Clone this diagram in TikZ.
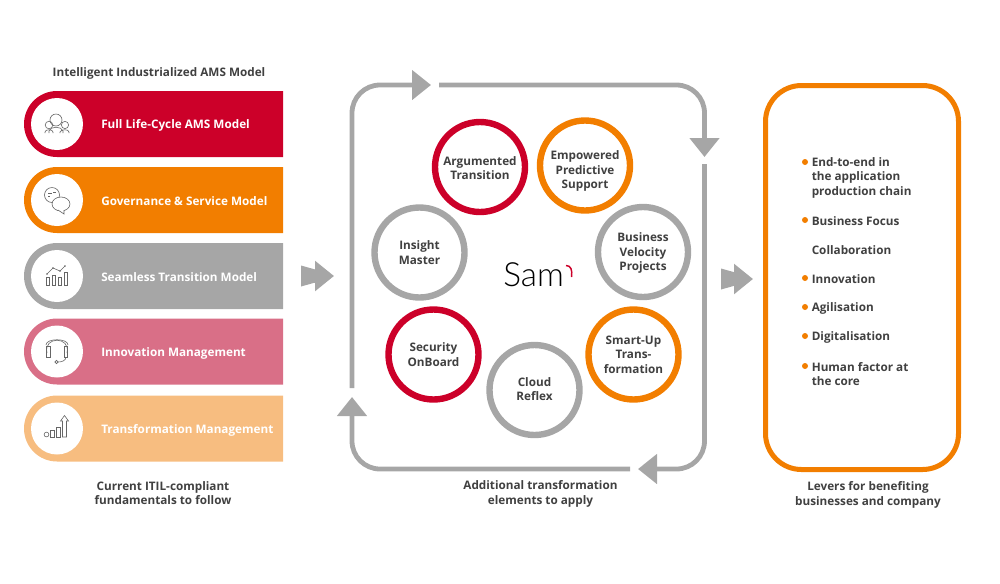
\documentclass[tikz,border=0pt]{standalone}
\usepackage{fontspec}
\setmainfont{Open Sans}
\newfontfamily\logofont{Lato Light}
\usetikzlibrary{arrows.meta,shapes.misc}
\definecolor{samred}{HTML}{CC0029}
\definecolor{samorange}{HTML}{F27E00}
\definecolor{samgray}{HTML}{A6A6A6}
\definecolor{sampink}{HTML}{D96F87}
\definecolor{samsand}{HTML}{F7BD80}
\definecolor{samtext}{HTML}{404040}
\definecolor{samicon}{HTML}{666666}
\tikzset{
	plain/.style={text=samtext,font=\fontsize{8.8pt}{10.9pt}\selectfont\bfseries,align=center,inner sep=0pt},
	notetext/.style={plain,yshift=-.75pt},
	listitem/.style={notetext,align=left,anchor=west},
	barbox/.style={rounded rectangle,rounded rectangle east arc=none,minimum width=194.25pt,minimum height=49.5pt,inner sep=0pt,outer sep=0pt},
	barlabel/.style={plain,text=white,anchor=west,yshift=-1.1pt},
	iconbase/.style={circle,fill=white,minimum size=39pt,inner sep=0pt},
	ring/.style={plain,circle,draw,line width=4.8pt,minimum size=67.5pt},
	loopline/.style={draw=samgray,line width=3.6pt,rounded corners=21pt,-{Triangle[width=21.75pt,length=14.25pt]}},
	pushline/.style={draw=samgray,line width=9.75pt,-{Triangle[width=22pt,length=14.25pt]}},
	icon/.style={draw=samicon,line width=.45pt},
	dotmark/.style={circle,fill=samorange,minimum size=4.5pt,inner sep=0pt}
}
\begin{document}
\begin{tikzpicture}[x=.75pt,y=-.75pt]
	\useasboundingbox (0,0) rectangle (1000,583);
	\node [notetext] (modeltitle) at (159,72) {Intelligent Industrialized AMS Model};
	\node [barbox,fill=samred] (lifebar) at (153.5,124) {};
	\node [barbox,fill=samorange] (govbar) at (153.5,200) {};
	\node [barbox,fill=samgray] (seambar) at (153.5,276) {};
	\node [barbox,fill=sampink] (innobar) at (153.5,351.5) {};
	\node [barbox,fill=samsand] (transbar) at (153.5,428.5) {};
	\node [iconbase] (lifeicon) at (57,124) {};
	\node [iconbase] (govicon) at (57,200) {};
	\node [iconbase] (seamicon) at (57,276) {};
	\node [iconbase] (innoicon) at (57,351.5) {};
	\node [iconbase] (transicon) at (57,428.5) {};
	\node [barlabel] (lifetext) at (101,124) {Full Life-Cycle AMS Model};
	\node [barlabel] (govtext) at (101,200) {Governance \& Service Model};
	\node [barlabel] (seamtext) at (101,276) {Seamless Transition Model};
	\node [barlabel] (innotext) at (101,351.5) {Innovation Management};
	\node [barlabel] (transtext) at (101,429) {Transformation Management};
	\node [notetext] (itilnote) at (163,492) {Current ITIL-compliant\\fundamentals to follow};

	\draw [icon] (56,120) circle (6);
	\draw [icon] (49,125) circle (3.8);
	\draw [icon] (65,125) circle (3.6);
	\draw [icon] (45,133) -- (45,132) .. controls (45,129) and (53,129) .. (53,132) -- (53,133);
	\draw [icon] (49,133) -- (49,131) .. controls (50,126) and (62,126) .. (63,131) -- (63,133);
	\draw [icon] (60,133) -- (60,132) .. controls (61,129) and (69,129) .. (69,132) -- (69,133);
	\draw [icon] (52,195) circle (7.5);
	\draw [icon,fill=white] (61,204) ellipse (9 and 7);
	\draw [icon,fill=white] (58,210) -- (64,214) -- (64,210);
	\draw [icon] (48,193) -- (52,193) (48,196) -- (50,196) (53,192) -- (56,192);
	\draw [icon] (46,277) rectangle (49,285);
	\draw [icon] (52,275) rectangle (55,285);
	\draw [icon] (58,277) rectangle (61,285);
	\draw [icon] (64,272) rectangle (67,285);
	\draw [icon] (47,274) -- (53,268) -- (60,271) -- (65,266);
	\fill [samicon] (47,274) circle (.9) (53,268) circle (.9) (60,271) circle (.9) (65,266) circle (.9);
	\draw [icon] (47,353) .. controls (43,336) and (71,336) .. (67,353);
	\draw [icon] (46,345) .. controls (46,338) and (68,338) .. (68,345);
	\draw [icon] (46.5,346) rectangle (50,357);
	\draw [icon] (64,346) rectangle (67.5,357);
	\draw [icon] (66,357) .. controls (66,361) and (61,362) .. (58,362);
	\draw [icon] (56.5,362) circle (1.6);
	\draw [icon] (46.5,434.5) circle (2.4);
	\draw [icon] (50,430) rectangle (54.5,437);
	\draw [icon] (56,427) rectangle (60.5,437);
	\draw [icon] (62.5,437) -- (62.5,421) -- (60.5,421) -- (64.5,415.5) -- (68.5,421) -- (66.5,421) -- (66.5,437) -- cycle;

	\coordinate (pushinA) at (301,276);
	\coordinate (pushinB) at (334,276);
	\coordinate (pushoutA) at (721,279);
	\coordinate (pushoutB) at (753,279);
	\fill [samgray] (pushinA) ++(0,-10.5) -- ++(16,4.5) -- ++(0,12) -- ++(-16,4.5) -- cycle;
	\fill [samgray] (pushoutA) ++(0,-10.5) -- ++(16,4.5) -- ++(0,12) -- ++(-16,4.5) -- cycle;
	\draw [pushline] (pushinA) -- (pushinB);
	\draw [pushline] (pushoutA) -- (pushoutB);

	\coordinate (loopA) at (352,388);
	\coordinate (loopB) at (431,85);
	\coordinate (loopC) at (439,85);
	\coordinate (loopD) at (704.5,157);
	\coordinate (loopE) at (704.5,164);
	\coordinate (loopF) at (638,469);
	\coordinate (loopG) at (630,469);
	\coordinate (loopH) at (352,397);
	\draw [loopline] (loopA) |- (loopB);
	\draw [loopline] (loopC) -| (loopD);
	\draw [loopline] (loopE) |- (loopF);
	\draw [loopline] (loopG) -| (loopH);

	\node [ring,draw=samred] (argumented) at (480,167) {\rule{0pt}{8pt}Argumented\\Transition};
	\node [ring,draw=samorange] (empowered) at (585,165.5) {\rule{0pt}{15.5pt}Empowered\\Predictive\\Support};
	\node [ring,draw=samgray] (insight) at (419.5,252.5) {Insight\\Master};
	\node [ring,draw=samgray] (velocity) at (643,252) {\rule{0pt}{8.5pt}Business\\Velocity\\Projects};
	\node [ring,draw=samred] (security) at (433.5,354.5) {Security\\OnBoard};
	\node [ring,draw=samorange] (smartup) at (633.5,354.5) {Smart-Up\\Trans-\\formation};
	\node [ring,draw=samgray] (cloud) at (534.5,390) {Cloud\\Reflex\rule[-1.5pt]{0pt}{0pt}};
	\node [inner sep=0pt,anchor=west,text=black,font=\logofont\fontsize{25pt}{25pt}\selectfont] (samlogo) at (503,275) {Sam};
	\draw [samred,line width=1.1pt] (566,265.5) .. controls (571,265.5) and (572.5,270) .. (571.5,277);
	\node [notetext] (addnote) at (540.5,493) {Additional transformation\\elements to apply};

	\draw [samorange,line width=3.75pt,rounded corners=27pt] (765.5,85.5) rectangle (958.5,469.5);
	\node [dotmark] (dotend) at (805,162) {};
	\node [dotmark] (dotfocus) at (805,220) {};
	\node [dotmark] (dotinno) at (805,278) {};
	\node [dotmark] (dotagil) at (805,307) {};
	\node [dotmark] (dotdigi) at (805,336) {};
	\node [dotmark] (dothuman) at (805,366) {};
	\node [listitem] (leverend) at (811.5,176.5) {End-to-end in\\the application\\production chain};
	\node [listitem] (leverfocus) at (811.5,220) {Business Focus};
	\node [listitem] (levercollab) at (811.5,249) {Collaboration};
	\node [listitem] (leverinno) at (811.5,278) {Innovation};
	\node [listitem] (leveragil) at (811.5,307) {Agilisation};
	\node [listitem] (leverdigi) at (811.5,336) {Digitalisation};
	\node [listitem] (leverhuman) at (811.5,373) {Human factor at\\the core};
	\node [notetext] (levernote) at (868,494) {Levers for benefiting\\businesses and company};
\end{tikzpicture}
\end{document}
